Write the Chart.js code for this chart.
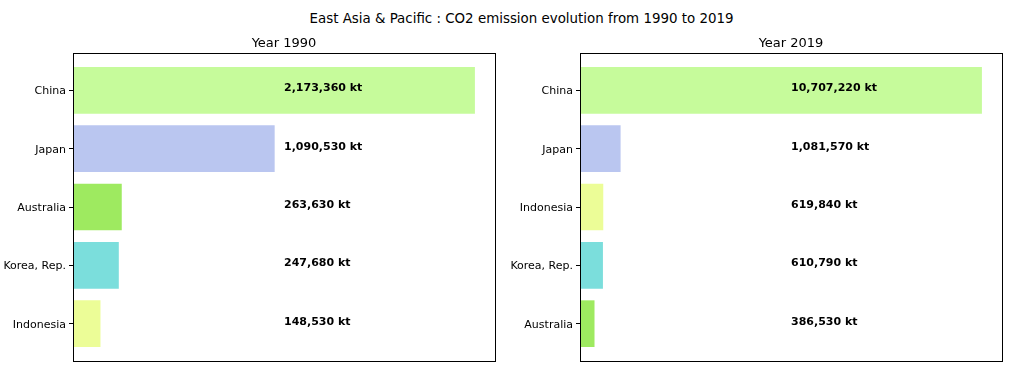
<!DOCTYPE html>
<html lang="en">
<head>
  <meta charset="UTF-8">
  <title>East Asia & Pacific CO2 emissions</title>
  <script src="https://cdn.jsdelivr.net/npm/chart.js"></script>
  <style>
    body { margin: 0; background: #fff; font-family: "DejaVu Sans", sans-serif; }
    #wrap { position: relative; width: 1013px; height: 371px; }
    #suptitle { position: absolute; left: 0; width: 1043px; top: 11px; text-align: center; font-size: 13.4px; color: #000; }
    canvas { position: absolute; top: 0; }
  </style>
</head>
<body>
  <div id="wrap">
    <div id="suptitle">East Asia &amp; Pacific : CO2 emission evolution from 1990 to 2019</div>
    <canvas id="chart1990" width="506" height="371" style="left:0"></canvas>
    <canvas id="chart2019" width="507" height="371" style="left:506px"></canvas>
  </div>

  <script>
    const countries1990 = ['China', 'Japan', 'Australia', 'Korea, Rep.', 'Indonesia'];
    const values1990 = [2173360, 1090530, 263630, 247680, 148530];
    const countries2019 = ['China', 'Japan', 'Indonesia', 'Korea, Rep.', 'Australia'];
    const values2019 = [10707220, 1081570, 619840, 610790, 386530];

    const countryColors = {
      'China': '#c6fb9b',
      'Japan': '#bac6f0',
      'Australia': '#9eea60',
      'Korea, Rep.': '#7bdedc',
      'Indonesia': '#ecfd97'
    };

    const fmt = v => v.toLocaleString('en-US') + ' kt';

    // axes frame, subplot title and value labels in the middle of the axes
    const framePlugin = {
      id: 'frame',
      afterDatasetsDraw(chart, args, opts) {
        const { ctx, chartArea: a, scales } = chart;
        const pts = chart.data.datasets[0].data;
        const mid = a.left + (a.right - a.left) / 2;
        ctx.save();
        ctx.fillStyle = '#000';
        ctx.textBaseline = 'alphabetic';
        ctx.font = 'bold 11px "DejaVu Sans"';
        ctx.textAlign = 'left';
        pts.forEach(p => {
          ctx.fillText(fmt(p.x), mid, scales.y.getPixelForValue(p.y) + 1);
        });
        ctx.font = '13px "DejaVu Sans"';
        ctx.textAlign = 'center';
        ctx.textBaseline = 'middle';
        ctx.fillText(opts.text, mid, a.top - 9);
        ctx.strokeStyle = '#000';
        ctx.lineWidth = 1;
        ctx.strokeRect(Math.round(a.left) + 0.5, Math.round(a.top) + 0.5,
          Math.round(a.right - a.left), Math.round(a.bottom - a.top));
        ctx.restore();
      }
    };

    function makeChart(id, title, cats, vals, axisWidth) {
      const data = vals.map((v, i) => ({ x: v, y: i }));
      new Chart(document.getElementById(id), {
        type: 'bar',
        data: {
          datasets: [{
            data,
            backgroundColor: cats.map(c => countryColors[c]),
            barPercentage: 0.8,
            categoryPercentage: 1.0
          }]
        },
        options: {
          indexAxis: 'y',
          responsive: false,
          animation: false,
          devicePixelRatio: 1,
          layout: { padding: { top: 53, bottom: 10, right: 11, left: 0 } },
          plugins: {
            legend: { display: false },
            tooltip: { enabled: false },
            title: { display: false },
            frame: { text: title }
          },
          scales: {
            x: {
              display: false,
              min: 0,
              max: Math.max(...vals) * 1.05
            },
            y: {
              type: 'linear',
              reverse: true,
              offset: false,
              min: -0.64,
              max: cats.length - 1 + 0.64,
              afterBuildTicks: s => { s.ticks = cats.map((c, i) => ({ value: i })); },
              afterFit: s => { s.width = axisWidth; },
              grid: { offset: false, drawOnChartArea: false, drawTicks: true, tickLength: 4, tickColor: '#000' },
              border: { display: false },
              ticks: {
                color: '#000',
                padding: 3,
                labelOffset: 1,
                font: { family: 'DejaVu Sans', size: 11 },
                callback: v => cats[v]
              }
            }
          }
        },
        plugins: [framePlugin]
      });
    }

    makeChart('chart1990', 'Year 1990', countries1990, values1990, 73);
    makeChart('chart2019', 'Year 2019', countries2019, values2019, 74);
  </script>
</body>
</html>
